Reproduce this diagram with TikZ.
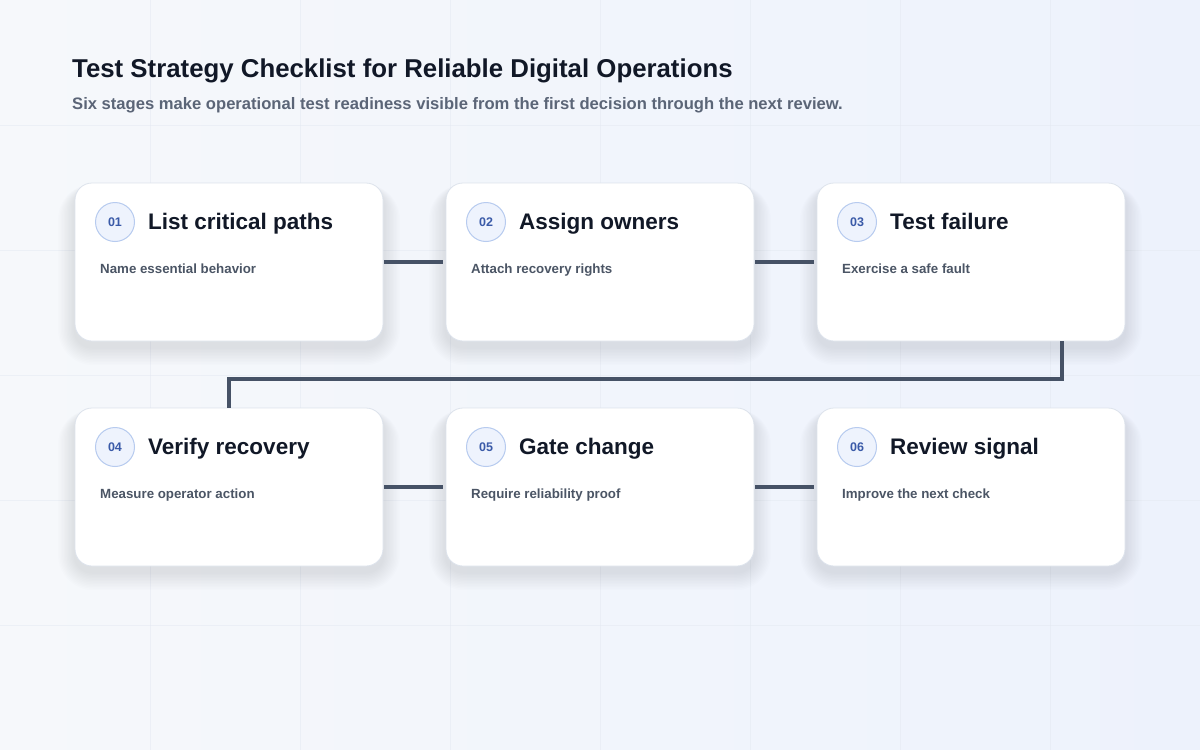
\documentclass[tikz,border=0pt]{standalone}
\usepackage{fontspec}
\setmainfont{Liberation Sans}
\usetikzlibrary{calc}
\definecolor{bgA}{HTML}{F6F8FB}
\definecolor{bgB}{HTML}{EDF2FC}
\definecolor{gridc}{HTML}{E4E9F2}
\definecolor{titlec}{HTML}{111827}
\definecolor{subc}{HTML}{5B6577}
\definecolor{cardsub}{HTML}{4B5565}
\definecolor{linkc}{HTML}{465266}
\definecolor{cardborder}{HTML}{DDE3EC}
\definecolor{numfill}{HTML}{EEF3FD}
\definecolor{numdraw}{HTML}{B7CBEF}
\definecolor{numtext}{HTML}{3A5AA8}
\definecolor{shadowc}{HTML}{5A6A8A}
\tikzset{
  cardbox/.style={fill=white, draw=cardborder, line width=0.8pt, rounded corners=17pt},
  numcirc/.style={circle, fill=numfill, draw=numdraw, line width=1pt, minimum size=39pt, inner sep=0pt,
     font=\fontsize{12.5}{14}\selectfont\bfseries, text=numtext},
  cardtitle/.style={anchor=base west, inner sep=0pt, font=\fontsize{22.5}{26}\selectfont\bfseries, text=titlec},
  cardtext/.style={anchor=base west, inner sep=0pt, font=\fontsize{13.3}{16}\selectfont\bfseries, text=cardsub},
  link/.style={draw=linkc, line width=4pt},
}
\newcommand{\stagecard}[6]{%
  % #1 name, #2 x, #3 y, #4 number, #5 title, #6 text
  \foreach \k in {1,...,12} {
    \fill[shadowc, opacity=0.012, rounded corners={17pt+\k*1.5pt}]
      ($(#2,#3)+(-\k*1.4,-\k*0.4+6)$) rectangle ($(#2+308,#3+158)+(\k*1.4,\k*1.5+6)$);
  }
  \path[cardbox] (#2,#3) rectangle (#2+308,#3+158);
  \node[minimum width=308pt, minimum height=158pt, inner sep=0pt, anchor=north west] (#1) at (#2,#3) {};
  \node[numcirc] (#1n) at (#2+40,#3+39) {#4};
  \node[cardtitle] (#1t) at (#2+73,#3+46) {#5};
  \node[cardtext] (#1s) at (#2+25,#3+90) {#6};
}
\begin{document}
\begin{tikzpicture}[x=1pt,y=-1pt]
\shade[left color=bgA, right color=bgB] (0,0) rectangle (1200,750);
\useasboundingbox (0,0) rectangle (1200,750);
\foreach \gx in {150,300,...,1050} \draw[gridc, line width=0.8pt, opacity=0.5] (\gx,0) -- (\gx,750);
\foreach \gy in {125,250,...,625} \draw[gridc, line width=0.8pt, opacity=0.5] (0,\gy) -- (1200,\gy);

\node[anchor=base west, inner sep=0pt, font=\fontsize{25.8}{30}\selectfont\bfseries, text=titlec] (title) at (72,77) {Test Strategy Checklist for Reliable Digital Operations};
\node[anchor=base west, inner sep=0pt, font=\fontsize{16.6}{19}\selectfont\bfseries, text=subc] (subtitle) at (72,109) {Six stages make operational test readiness visible from the first decision through the next review.};

\stagecard{c1}{75}{183}{01}{List critical paths}{Name essential behavior}
\stagecard{c2}{446}{183}{02}{Assign owners}{Attach recovery rights}
\stagecard{c3}{817}{183}{03}{Test failure}{Exercise a safe fault}
\stagecard{c4}{75}{408}{04}{Verify recovery}{Measure operator action}
\stagecard{c5}{446}{408}{05}{Gate change}{Require reliability proof}
\stagecard{c6}{817}{408}{06}{Review signal}{Improve the next check}

\coordinate (b1) at (1062,379);
\coordinate (b2) at (229,379);
\draw[link] ([xshift=1pt]c1.east |- 0,262) -- ([xshift=-3pt]c2.west |- 0,262);
\draw[link] ([xshift=1pt]c2.east |- 0,262) -- ([xshift=-3pt]c3.west |- 0,262);
\draw[link] (c3.south -| b1) -- (b1) -- (b2) -- (c4.north -| b2);
\draw[link] ([xshift=1pt]c4.east |- 0,487) -- ([xshift=-3pt]c5.west |- 0,487);
\draw[link] ([xshift=1pt]c5.east |- 0,487) -- ([xshift=-3pt]c6.west |- 0,487);
\end{tikzpicture}
\end{document}
